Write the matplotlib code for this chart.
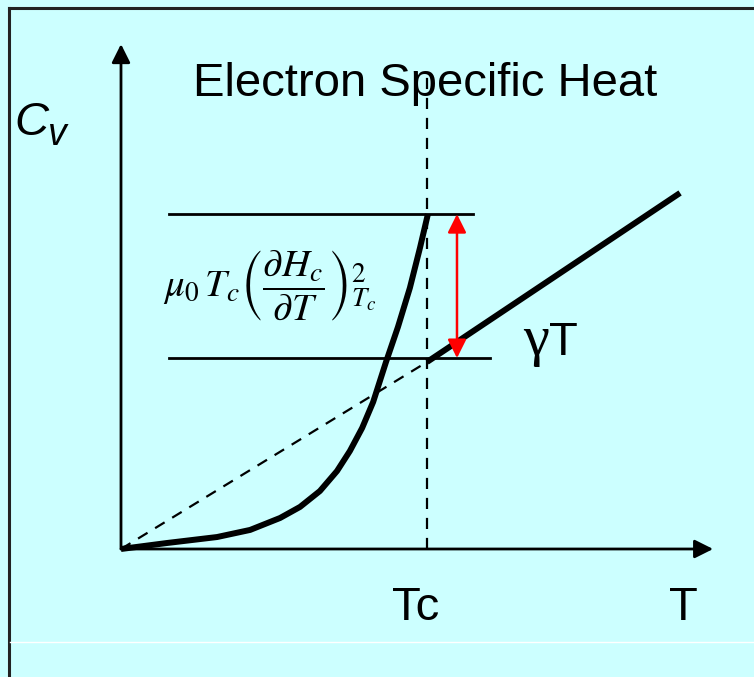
import matplotlib.pyplot as plt
from matplotlib.lines import Line2D

# reduced units: T/Tc and C/(gamma*Tc)
T_sc = [0.0, 0.150, 0.314, 0.422, 0.520, 0.585, 0.650, 0.706, 0.748, 0.788,
        0.824, 0.866, 0.905, 0.944, 0.977, 1.003]
C_sc = [0.0, 0.032, 0.064, 0.102, 0.166, 0.225, 0.310, 0.417, 0.524, 0.647,
        0.786, 1.0, 1.187, 1.396, 1.610, 1.791]

T_norm = [1.0, 1.827]
C_norm = [1.0, 1.904]

T_extrap = [0.0, 1.0]
C_extrap = [0.0, 1.0]

C_jump_top = 1.791
C_jump_bot = 1.021
T_arrow = 1.098
Tc = 1.0

bg = '#CCFFFF'
fig = plt.figure(figsize=(7.54, 6.77), dpi=100, facecolor=bg)
ax = fig.add_axes([0, 0, 1, 1])
ax.set_axis_off()
ax.set_xlim(-0.3954, 2.0686)
ax.set_ylim(-0.6845, 2.9358)

# frame around the slide
fig.add_artist(Line2D([0.0119, 1.0], [0.9889, 0.9889], transform=fig.transFigure, color='#222222', lw=2.2))
fig.add_artist(Line2D([0.0119, 0.0119], [0.0, 0.9889], transform=fig.transFigure, color='#222222', lw=2.2))
fig.add_artist(Line2D([0.0135, 1.0], [0.0517, 0.0517], transform=fig.transFigure, color='white', lw=1.0))

# axes arrows
ax.annotate('', xy=(0, 2.70), xytext=(0, 0),
            arrowprops=dict(arrowstyle='-|>', lw=2, color='black', mutation_scale=28, shrinkA=0, shrinkB=0))
ax.annotate('', xy=(1.935, 0), xytext=(0, 0),
            arrowprops=dict(arrowstyle='-|>', lw=2, color='black', mutation_scale=28, shrinkA=0, shrinkB=0))

# Tc dashed line and extrapolated normal state
ax.plot([Tc, Tc], [0, 2.535], color='black', lw=1.6, ls=(0, (5, 4)))
ax.plot(T_extrap, C_extrap, color='black', lw=1.6, ls=(0, (5, 4)))

# horizontal guide lines
ax.plot([0.157, 1.150], [C_jump_top, C_jump_top], color='black', lw=2)
ax.plot([0.157, 1.206], [C_jump_bot, C_jump_bot], color='black', lw=2)

# curves
ax.plot(T_sc, C_sc, color='black', lw=4.3, solid_capstyle='butt', solid_joinstyle='round')
ax.plot(T_norm, C_norm, color='black', lw=4.3, solid_capstyle='butt')

# jump arrow
ax.annotate('', xy=(T_arrow, C_jump_bot), xytext=(T_arrow, C_jump_top),
            arrowprops=dict(arrowstyle='<|-|>', lw=1.8, color='red', mutation_scale=28, shrinkA=0, shrinkB=0))

# texts (pixel positions converted to figure fraction)
W, H = 754, 677
def fx(px):
    return px / W
def fy(py):
    return 1 - py / H

sans = 'Liberation Sans'
fig.text(fx(425), fy(96), 'Electron Specific Heat', family=sans, fontsize=34, ha='center', va='baseline')
fig.text(fx(14), fy(135), 'C', family=sans, style='italic', fontsize=34, ha='left', va='baseline')
fig.text(fx(48), fy(145), 'v', family=sans, style='italic', fontsize=27, ha='left', va='baseline')
fig.text(fx(416), fy(620), 'Tc', family=sans, fontsize=34, ha='center', va='baseline')
fig.text(fx(683), fy(620), 'T', family=sans, fontsize=34, ha='center', va='baseline')
fig.text(fx(523), fy(355), 'γ', family='Liberation Serif', fontsize=42, ha='left', va='baseline')
fig.text(fx(549), fy(355), 'T', family=sans, fontsize=34, ha='left', va='baseline')
fig.text(fx(163), fy(285),
         r'$\mu_0\,T_c\left(\dfrac{\partial H_c}{\partial T}\right)^{2}_{T_c}$',
         math_fontfamily='stix', fontsize=28, ha='left', va='center')

fig.savefig('out.png', dpi=100, facecolor=bg)
